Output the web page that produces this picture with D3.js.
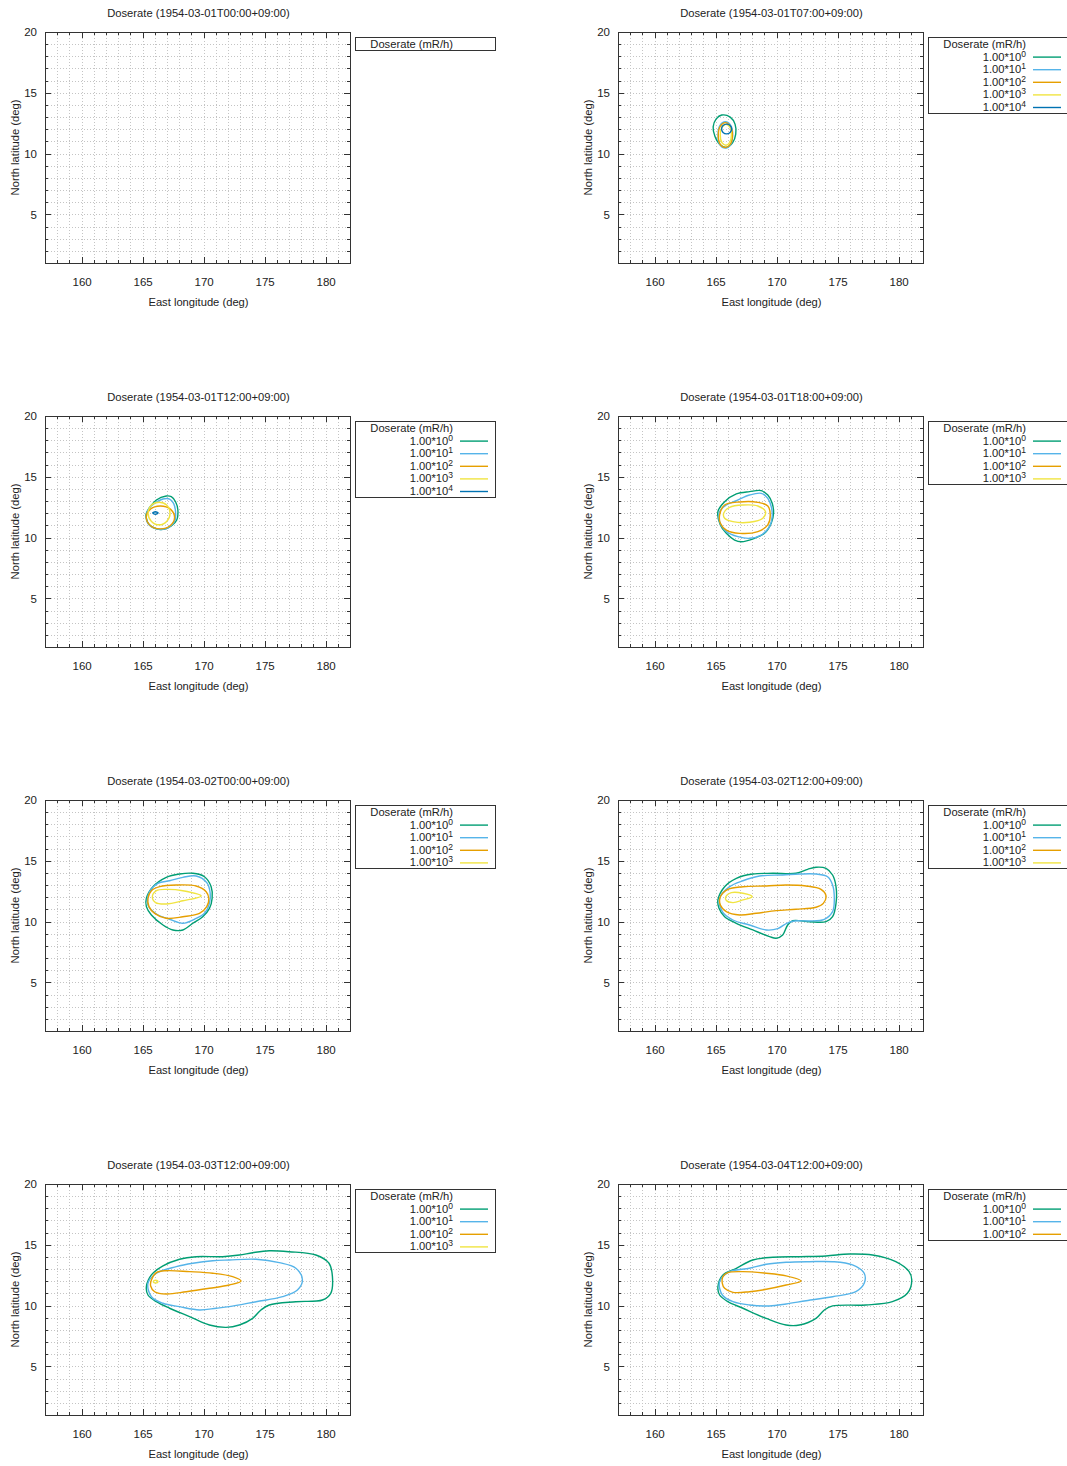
<!DOCTYPE html>
<html>
<head>
<meta charset="utf-8">
<script src="https://cdn.jsdelivr.net/npm/d3@7"></script>
<style>
  body { margin: 0; background: #fff; }
  text { font-family: "Liberation Sans", Arial, sans-serif; fill: #222; }
  .grid line { stroke: #c4c4c4; stroke-width: 1; stroke-dasharray: 1,2; shape-rendering: crispEdges; }
  .tick line { stroke: #333; shape-rendering: crispEdges; }
  .tick text { font-size: 11.5px; font-family: "Liberation Sans", Arial, sans-serif; fill: #222; }
  .border { fill: none; stroke: #333; stroke-width: 1; shape-rendering: crispEdges; }
</style>
</head>
<body>
<div id="chart"></div>
<script>
// Panel titles (time of each snapshot)
const panelTimes = [
  '1954-03-01T00:00+09:00', '1954-03-01T07:00+09:00',
  '1954-03-01T12:00+09:00', '1954-03-01T18:00+09:00',
  '1954-03-02T00:00+09:00', '1954-03-02T12:00+09:00',
  '1954-03-03T12:00+09:00', '1954-03-04T12:00+09:00'
];

// Contour levels: 1.00*10^n mR/h
const levelExp = [0, 1, 2, 3, 4];
const levelColors = ['#009e73', '#56b4e9', '#e69f00', '#f0e442', '#0072b2'];

const xTicks = [160, 165, 170, 175, 180];
const yTicks = [5, 10, 15, 20];

// Contours as [east longitude, north latitude]
// 1954-03-01T07:00
const t0107_lv0 = [[165.5,13.17],[166.2,13.0],[166.6,12.4],[166.65,11.6],[166.4,10.9],[165.9,10.5],[165.4,10.7],[164.95,11.4],[164.8,12.2],[165.05,12.85]];
const t0107_lv1 = [[165.8,12.62],[166.25,12.3],[166.4,11.5],[166.22,10.72],[165.8,10.45],[165.35,10.72],[165.2,11.5],[165.35,12.3]];
const t0107_lv2 = [[165.8,12.55],[166.22,12.24],[166.38,11.5],[166.2,10.76],[165.8,10.5],[165.38,10.76],[165.22,11.5],[165.38,12.24]];
const t0107_lv3 = [[165.85,12.4],[166.18,12.15],[166.3,11.55],[166.15,10.9],[165.85,10.68],[165.52,10.9],[165.38,11.55],[165.52,12.15]];
const t0107_lv4 = [[165.9,12.42],[166.19,12.3],[166.31,12.02],[166.19,11.74],[165.9,11.62],[165.61,11.74],[165.49,12.02],[165.61,12.3]];

// 1954-03-01T12:00
const t0112_lv0 = [[165.31,12.0],[166.13,13.09],[166.94,13.42],[167.35,13.36],[167.7,12.95],[167.89,12.27],[167.8,11.45],[167.35,10.95],[166.8,10.7],[166.13,10.72],[165.55,11.05],[165.3,11.6]];
const t0112_lv1 = [[165.99,12.82],[166.67,13.17],[167.21,13.17],[167.54,12.82],[167.7,12.13],[167.65,11.4],[167.21,10.88],[166.67,10.68],[165.99,10.75],[165.44,11.15],[165.3,11.75],[165.52,12.41]];
const t0112_lv2 = [[166.45,12.6],[167.3,12.32],[167.62,11.65],[167.28,11.0],[166.45,10.72],[165.65,10.98],[165.3,11.65],[165.62,12.32]];
const t0112_lv3 = [[166.35,12.9],[166.99,12.65],[167.25,12.0],[166.99,11.35],[166.35,11.05],[165.71,11.35],[165.45,12.0],[165.71,12.65]];
const t0112_lv4 = [[166.05,12.12],[166.21,12.07],[166.27,12.02],[166.21,11.97],[166.05,11.92],[165.89,11.97],[165.83,12.02],[165.89,12.07]];

// 1954-03-01T18:00
const t0118_lv0 = [[165.19,12.13],[165.74,12.95],[166.7,13.59],[167.78,13.78],[168.74,13.86],[169.28,13.5],[169.64,12.82],[169.75,12.0],[169.56,11.18],[169.01,10.35],[168.19,9.94],[167.1,9.66],[166.56,9.8],[165.88,10.35],[165.39,11.04]];
const t0118_lv1 = [[166.7,13.03],[167.78,13.5],[168.74,13.64],[169.28,13.23],[169.56,12.54],[169.64,11.72],[169.42,10.9],[168.74,10.21],[167.78,9.94],[166.83,10.08],[165.88,10.49],[165.33,11.31],[165.33,12.13],[165.88,12.68]];
const t0118_lv2 = [[165.33,11.86],[165.74,12.68],[166.97,12.93],[168.46,12.9],[169.28,12.6],[169.48,11.86],[169.28,11.04],[168.46,10.49],[166.97,10.35],[165.88,10.62],[165.39,11.18]];
const t0118_lv3 = [[165.66,12.0],[166.15,12.49],[167.24,12.68],[168.46,12.6],[169.09,12.13],[168.87,11.59],[167.78,11.26],[166.42,11.31],[165.74,11.59]];

// 1954-03-02T00:00
const t0200_lv0 = [[165.31,11.92],[165.85,12.87],[166.94,13.64],[168.03,13.91],[169.12,13.97],[170.07,13.69],[170.62,12.87],[170.7,11.92],[170.48,11.09],[169.93,10.4],[169.12,9.86],[168.3,9.31],[167.48,9.31],[166.67,9.72],[165.72,10.54],[165.31,11.23]];
const t0200_lv1 = [[165.58,12.46],[166.26,13.15],[167.21,13.36],[168.3,13.64],[169.39,13.75],[170.26,13.2],[170.54,12.33],[170.48,11.5],[170.07,10.68],[169.25,10.19],[168.3,9.86],[167.21,10.19],[166.13,10.62],[165.44,11.36]];
const t0200_lv2 = [[165.44,11.92],[165.72,12.54],[166.4,12.87],[167.76,13.01],[169.39,12.93],[170.21,12.46],[170.43,11.92],[170.26,11.23],[169.66,10.68],[168.3,10.4],[166.94,10.27],[165.99,10.68],[165.52,11.23]];
const t0200_lv3 = [[165.8,12.05],[166.13,12.54],[166.94,12.65],[168.3,12.54],[169.8,12.11],[168.3,11.71],[166.94,11.45],[166.07,11.56]];

// 1954-03-02T12:00
const t0212_lv0 = [[165.19,11.78],[165.74,12.87],[166.7,13.56],[168.05,13.91],[169.69,13.97],[171.6,13.97],[172.55,14.3],[173.23,14.47],[174.05,14.38],[174.59,13.83],[174.87,12.87],[174.87,11.5],[174.59,10.4],[174.05,9.99],[172.69,9.99],[171.32,10.07],[170.91,9.72],[170.5,8.9],[169.97,8.63],[169.42,8.76],[168.05,9.31],[166.7,9.86],[165.74,10.4],[165.28,11.09]];
const t0212_lv1 = [[165.33,11.92],[166.15,12.87],[167.24,13.36],[168.6,13.75],[170.5,13.83],[171.87,13.91],[173.23,13.91],[174.18,13.69],[174.59,13.01],[174.73,11.78],[174.59,10.82],[173.91,10.19],[172.69,10.05],[171.46,10.05],[170.83,9.86],[170.1,9.42],[169.15,9.31],[167.78,9.72],[166.42,10.13],[165.55,10.82]];
const t0212_lv2 = [[165.39,12.05],[166.01,12.65],[167.24,12.87],[169.15,12.93],[170.78,13.01],[172.42,12.93],[173.64,12.65],[174.05,12.11],[173.83,11.5],[173.23,11.18],[171.6,11.01],[169.97,10.9],[168.33,10.68],[166.97,10.54],[165.88,10.82],[165.39,11.36]];
const t0212_lv3 = [[165.82,12.0],[166.29,12.38],[167.24,12.33],[168.0,12.05],[167.24,11.78],[166.42,11.56],[165.88,11.73]];

// 1954-03-03T12:00
const t0312_lv0 = [[165.31,11.55],[165.72,12.52],[166.67,13.26],[168.03,13.81],[169.39,14.02],[171.57,14.02],[172.93,14.16],[174.02,14.35],[175.38,14.51],[177.02,14.43],[179.2,14.16],[180.28,13.48],[180.56,12.38],[180.42,11.01],[179.74,10.46],[177.56,10.32],[175.38,10.05],[174.7,9.64],[174.02,8.95],[172.93,8.4],[171.84,8.21],[170.48,8.4],[168.85,9.09],[167.21,9.78],[166.13,10.32],[165.44,10.87]];
const t0312_lv1 = [[165.44,11.83],[166.13,12.66],[167.76,13.2],[169.12,13.48],[170.75,13.69],[172.11,13.75],[174.3,13.81],[176.2,13.53],[177.56,13.07],[178.1,12.11],[177.69,11.28],[176.47,10.73],[174.3,10.32],[172.11,9.91],[171.03,9.78],[169.66,9.64],[168.03,9.91],[166.67,10.19],[165.72,10.73]];
const t0312_lv2 = [[165.72,12.11],[166.13,12.71],[166.94,12.87],[168.85,12.79],[170.75,12.66],[172.38,12.38],[173.07,12.02],[172.11,11.69],[170.48,11.42],[168.58,11.14],[166.94,10.95],[165.99,11.14],[165.66,11.61]];
const t0312_lv3 = [[166.07,12.08],[166.2,12.05],[166.26,11.97],[166.2,11.89],[166.07,11.86],[165.94,11.89],[165.88,11.97],[165.94,12.05]];

// 1954-03-04T12:00
const t0412_lv0 = [[165.19,11.55],[165.6,12.52],[166.7,13.07],[168.05,13.75],[169.69,13.97],[171.87,14.02],[174.05,14.08],[175.95,14.24],[177.86,14.16],[179.77,13.61],[180.86,12.79],[181.08,12.11],[180.72,11.01],[179.49,10.32],[177.32,10.05],[174.59,9.97],[173.91,9.64],[173.23,8.95],[171.87,8.4],[170.78,8.4],[169.15,8.95],[167.24,9.78],[166.01,10.32],[165.33,10.87]];
const t0412_lv1 = [[165.33,11.97],[166.15,12.79],[167.78,13.07],[169.15,13.4],[170.78,13.56],[172.69,13.61],[174.59,13.61],[176.22,13.34],[177.18,12.66],[177.18,11.83],[176.5,11.14],[174.59,10.73],[172.42,10.4],[170.78,10.13],[169.42,9.97],[167.78,10.05],[166.42,10.32],[165.55,10.87]];
const t0412_lv2 = [[165.6,12.38],[166.01,12.71],[167.24,12.79],[169.15,12.66],[170.78,12.44],[172.01,12.02],[170.78,11.69],[169.15,11.34],[167.78,11.14],[166.42,11.09],[165.74,11.42],[165.55,11.83]];

// One list of contour rings per panel; the legend lists the same levels
const panelContours = [
  [],
  [t0107_lv0, t0107_lv1, t0107_lv2, t0107_lv3, t0107_lv4],
  [t0112_lv0, t0112_lv1, t0112_lv2, t0112_lv3, t0112_lv4],
  [t0118_lv0, t0118_lv1, t0118_lv2, t0118_lv3],
  [t0200_lv0, t0200_lv1, t0200_lv2, t0200_lv3],
  [t0212_lv0, t0212_lv1, t0212_lv2, t0212_lv3],
  [t0312_lv0, t0312_lv1, t0312_lv2, t0312_lv3],
  [t0412_lv0, t0412_lv1, t0412_lv2]
];

(function () {
  const width = 1067, height = 1466;
  const colX = [45, 618];
  const rowY = [32, 416, 800, 1184];
  const innerW = 305, innerH = 231;

  const svg = d3.select('#chart').append('svg')
    .attr('width', width)
    .attr('height', height)
    .style('display', 'block');

  const x = d3.scaleLinear().domain([157, 182]).range([0, innerW]);
  const y = d3.scaleLinear().domain([1, 20]).range([innerH, 0]);

  const xMinor = d3.range(158, 182);
  const yMinor = d3.range(2, 20);

  const line = d3.line()
    .x(d => x(d[0]))
    .y(d => y(d[1]))
    .curve(d3.curveCatmullRomClosed.alpha(0.5));

  panelTimes.forEach((time, i) => {
    const g = svg.append('g')
      .attr('transform', `translate(${colX[i % 2]},${rowY[Math.floor(i / 2)]})`);

    // Dotted grid at every degree
    const grid = g.append('g').attr('class', 'grid');
    grid.selectAll('line.v').data(xMinor).enter().append('line')
      .attr('x1', d => Math.round(x(d)) + 0.5).attr('x2', d => Math.round(x(d)) + 0.5)
      .attr('y1', 0).attr('y2', innerH);
    grid.selectAll('line.h').data(yMinor).enter().append('line')
      .attr('y1', d => Math.round(y(d)) + 0.5).attr('y2', d => Math.round(y(d)) + 0.5)
      .attr('x1', 0).attr('x2', innerW);

    // Contours
    const contours = panelContours[i];
    g.append('g').selectAll('path').data(contours).enter().append('path')
      .attr('d', d => line(d))
      .attr('fill', 'none')
      .attr('stroke', (d, k) => levelColors[k])
      .attr('stroke-width', 1.4);

    // Ticks, inward and mirrored
    const tickG = g.append('g');
    tickG.append('g').attr('transform', `translate(0,${innerH})`)
      .call(d3.axisBottom(x).tickValues(xMinor).tickSize(-3).tickFormat(''))
      .call(a => a.select('.domain').remove());
    tickG.append('g').call(d3.axisTop(x).tickValues(xMinor).tickSize(-3).tickFormat(''))
      .call(a => a.select('.domain').remove());
    tickG.append('g').call(d3.axisLeft(y).tickValues(yMinor).tickSize(-3).tickFormat(''))
      .call(a => a.select('.domain').remove());
    tickG.append('g').attr('transform', `translate(${innerW},0)`)
      .call(d3.axisRight(y).tickValues(yMinor).tickSize(-3).tickFormat(''))
      .call(a => a.select('.domain').remove());

    tickG.append('g').attr('transform', `translate(0,${innerH})`)
      .call(d3.axisBottom(x).tickValues(xTicks).tickSizeInner(-6).tickSizeOuter(0).tickPadding(15))
      .call(a => a.select('.domain').remove());
    tickG.append('g')
      .call(d3.axisTop(x).tickValues(xTicks).tickSizeInner(-6).tickSizeOuter(0).tickFormat(''))
      .call(a => a.select('.domain').remove());
    tickG.append('g')
      .call(d3.axisLeft(y).tickValues(yTicks).tickSizeInner(-6).tickSizeOuter(0).tickPadding(8))
      .call(a => a.select('.domain').remove());
    tickG.append('g').attr('transform', `translate(${innerW},0)`)
      .call(d3.axisRight(y).tickValues(yTicks).tickSizeInner(-6).tickSizeOuter(0).tickFormat(''))
      .call(a => a.select('.domain').remove());

    g.append('rect').attr('class', 'border')
      .attr('x', 0.5).attr('y', 0.5).attr('width', innerW).attr('height', innerH);

    // Titles and axis labels
    g.append('text')
      .attr('x', innerW / 2 + 1).attr('y', -15)
      .attr('text-anchor', 'middle').style('font-size', '11.2px')
      .text(`Doserate (${time})`);
    g.append('text')
      .attr('x', innerW / 2 + 1).attr('y', innerH + 43)
      .attr('text-anchor', 'middle').style('font-size', '11.2px')
      .text('East longitude (deg)');
    g.append('text')
      .attr('transform', `translate(-26,${innerH / 2}) rotate(-90)`)
      .attr('text-anchor', 'middle').style('font-size', '11.2px')
      .text('North latitude (deg)');

    // Legend box
    const rowH = 12.6;
    const lg = g.append('g').attr('transform', `translate(${innerW + 5},5)`);
    lg.append('rect')
      .attr('x', 0.5).attr('y', 0.5)
      .attr('width', 140).attr('height', 13 + rowH * contours.length)
      .attr('fill', '#fff').attr('stroke', '#333').attr('shape-rendering', 'crispEdges');
    lg.append('text')
      .attr('x', 98).attr('y', 11)
      .attr('text-anchor', 'end').style('font-size', '11.2px')
      .text('Doserate (mR/h)');
    contours.forEach((c, k) => {
      const by = 11 + rowH * (k + 1);
      const t = lg.append('text')
        .attr('x', 98).attr('y', by)
        .attr('text-anchor', 'end').style('font-size', '11.2px');
      t.append('tspan').text('1.00*10');
      t.append('tspan').attr('dy', -4).style('font-size', '8.5px').text(levelExp[k]);
      lg.append('line')
        .attr('x1', 105).attr('x2', 133)
        .attr('y1', by - 3.5).attr('y2', by - 3.5)
        .attr('stroke', levelColors[k]).attr('stroke-width', 1.4);
    });
  });
})();
</script>
</body>
</html>
